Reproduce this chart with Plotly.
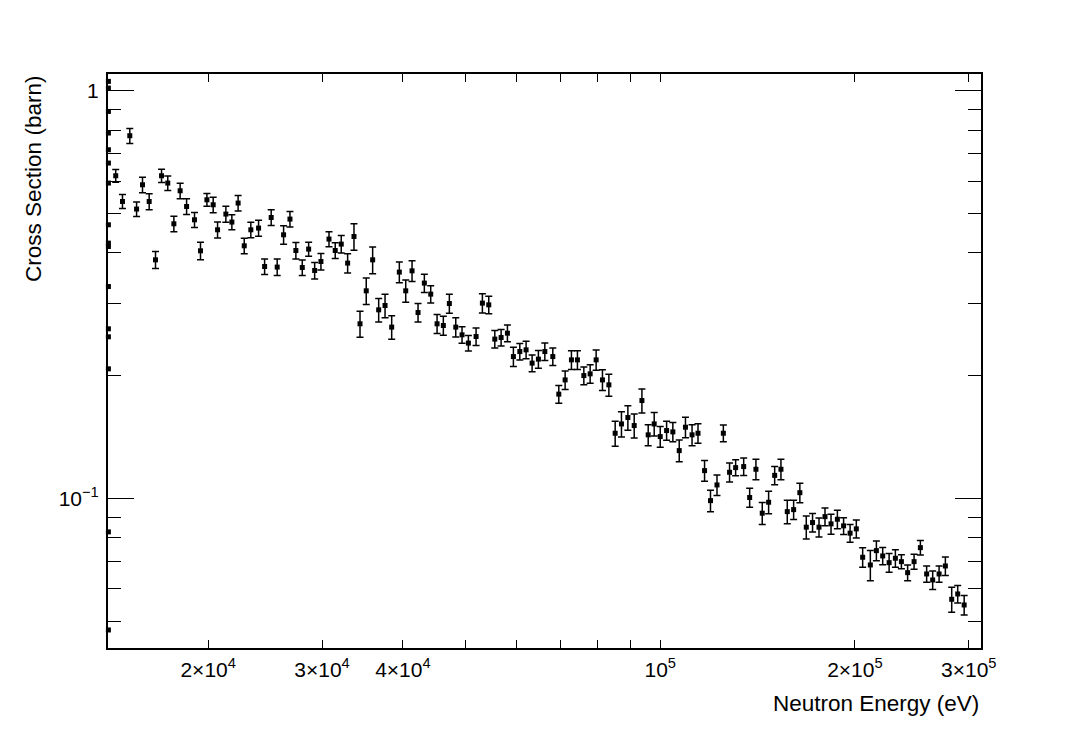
import math
import plotly.graph_objects as go

# Neutron energy (eV), cross section (barn), symmetric error (barn)
energy = [14390, 14740, 15130, 15500, 15830, 16210, 16580, 16940, 17320, 17700,
          18100, 18520, 19050, 19460, 19910, 20360, 20680, 21300, 21760, 22250,
          22740, 23280, 23930, 24450, 25030, 25570, 26160, 26760, 27330, 27960,
          28600, 29220, 29880, 30750, 31440, 32120, 32860, 33610, 34340, 35110,
          35920, 36700, 37540, 38440, 39500, 40410, 41330, 42220, 43180, 44170,
          45180, 46200, 47200, 48290, 49380, 50510, 51910, 53090, 54310, 55490,
          56750, 58040, 59290, 60660, 62030, 63370, 64810, 66310, 68220, 69690,
          71280, 72900, 74470, 76190, 77920, 79600, 81410, 83290, 85180, 87110,
          89120, 91150, 93690, 95810, 97880, 100000, 102300, 104600, 107000, 109400,
          112000, 114400, 117100, 119600, 122400, 125200, 128000, 130800, 134600, 137500,
          140600, 143800, 147100, 150300, 153700, 157200, 160800, 164400, 168200, 172000,
          176000, 179800, 183700, 187900, 192100, 196600, 201000, 205600, 211300, 215900,
          220800, 225900, 231000, 236000, 241300, 246900, 252500, 258200, 263800, 269900,
          276000, 282300, 288400, 295100]

xsec = [0.6186, 0.5350, 0.7755, 0.5125, 0.5879, 0.5350, 0.3848, 0.6186, 0.5936, 0.4716,
        0.5683, 0.5201, 0.4824, 0.4049, 0.5401, 0.5251, 0.4559, 0.4982, 0.4762, 0.5302,
        0.4165, 0.4559, 0.4603, 0.3705, 0.4887, 0.3693, 0.4432, 0.4843, 0.4056, 0.3684,
        0.4088, 0.3623, 0.3811, 0.4326, 0.4056, 0.4205, 0.3777, 0.4390, 0.2681, 0.3230,
        0.3848, 0.2901, 0.2973, 0.2631, 0.3590, 0.3230, 0.3616, 0.2857, 0.3374, 0.3170,
        0.2681, 0.2655, 0.3006, 0.2631, 0.2519, 0.2404, 0.2495, 0.3013, 0.2984, 0.2459,
        0.2481, 0.2543, 0.2228, 0.2292, 0.2314, 0.2147, 0.2196, 0.2292, 0.2228, 0.1802,
        0.1953, 0.2187, 0.2187, 0.2001, 0.2021, 0.2187, 0.1953, 0.1899, 0.1445, 0.1523,
        0.1579, 0.1509, 0.1738, 0.1432, 0.1523, 0.1418, 0.1467, 0.1456, 0.1310, 0.1495,
        0.1432, 0.1445, 0.1170, 0.09876, 0.1079, 0.1445, 0.1159, 0.1190, 0.1197, 0.1005,
        0.1179, 0.09198, 0.09787, 0.1139, 0.1179, 0.09281, 0.09387, 0.1033, 0.08501, 0.08725,
        0.08501, 0.09022, 0.08661, 0.08890, 0.08564, 0.08218, 0.08420, 0.07173, 0.06867, 0.07446,
        0.07226, 0.06957, 0.07132, 0.06997, 0.06575, 0.06997, 0.07573, 0.06527, 0.06309, 0.06527,
        0.06828, 0.05657, 0.05830, 0.05478]

xsec_err = [0.0220, 0.0212, 0.0329, 0.0208, 0.0256, 0.0242, 0.0185, 0.0234, 0.0245, 0.0208,
            0.0250, 0.0229, 0.0204, 0.0199, 0.0192, 0.0231, 0.0206, 0.0225, 0.0202, 0.0234,
            0.0184, 0.0198, 0.0208, 0.0163, 0.0215, 0.0173, 0.0230, 0.0213, 0.0190, 0.0162,
            0.0162, 0.0168, 0.0179, 0.0183, 0.0179, 0.0207, 0.0203, 0.0330, 0.0197, 0.0241,
            0.0289, 0.0192, 0.0197, 0.0175, 0.0209, 0.0204, 0.0210, 0.0149, 0.0175, 0.0156,
            0.0144, 0.0143, 0.0161, 0.0144, 0.0118, 0.0105, 0.0124, 0.0165, 0.0148, 0.0121,
            0.0116, 0.0119, 0.0122, 0.0107, 0.0114, 0.0101, 0.0109, 0.0113, 0.0111, 0.00896,
            0.0102, 0.0115, 0.0115, 0.00995, 0.0105, 0.0124, 0.0114, 0.0118, 0.0102, 0.0108,
            0.0109, 0.0102, 0.0118, 0.0085, 0.0101, 0.00825, 0.00787, 0.00798, 0.00799, 0.00870,
            0.00850, 0.00792, 0.00681, 0.00597, 0.00628, 0.00678, 0.00622, 0.00538, 0.00595, 0.00539,
            0.00686, 0.00572, 0.00619, 0.00592, 0.00686, 0.00619, 0.00514, 0.00566, 0.00552, 0.00454,
            0.00456, 0.00449, 0.00489, 0.00462, 0.00402, 0.00409, 0.00428, 0.00393, 0.00582, 0.00412,
            0.00355, 0.00366, 0.00355, 0.00277, 0.00290, 0.00297, 0.00312, 0.00302, 0.00328, 0.00302,
            0.00355, 0.00400, 0.00287, 0.00300]

# points that sit on the lower energy edge of the frame
edge_xsec = [1.054, 1.015, 0.8896, 0.7874, 0.7165, 0.6646, 0.5936, 0.4690,
             0.4229, 0.4149, 0.3309, 0.2606, 0.2491, 0.2079, 0.08278, 0.04757]
edge_energy = [14020] * len(edge_xsec)

x_labels = [20000, 30000, 40000, 100000, 200000, 300000]
x_label_text = ["2×10<sup>4</sup>", "3×10<sup>4</sup>", "4×10<sup>4</sup>",
                "10<sup>5</sup>", "2×10<sup>5</sup>", "3×10<sup>5</sup>"]
x_minor = [50000, 60000, 70000, 80000, 90000]
y_major = [0.1, 1]
y_major_text = ["10<sup>−1</sup>", "1"]
y_minor = [0.05, 0.06, 0.07, 0.08, 0.09, 0.2, 0.3, 0.4, 0.5, 0.6, 0.7, 0.8, 0.9]

x_range = [math.log10(14000), 5.4960]
y_range = [-1.3669, 0.0410]

FONT = "Liberation Sans, Arial, Helvetica, sans-serif"

fig = go.Figure()
fig.add_trace(go.Scatter(
    x=energy, y=xsec, mode="markers",
    marker=dict(symbol="square", size=5, color="black"),
    error_y=dict(type="data", array=xsec_err, visible=True, color="black",
                 thickness=1.5, width=3.5),
    cliponaxis=False, showlegend=False))
fig.add_trace(go.Scatter(
    x=edge_energy, y=edge_xsec, mode="markers",
    marker=dict(symbol="square", size=5, color="black"),
    cliponaxis=False, showlegend=False))

fig.update_layout(
    width=1091, height=741,
    margin=dict(l=108, r=110, t=74, b=93),
    paper_bgcolor="white", plot_bgcolor="white",
    font=dict(family=FONT, size=21, color="black"),
    xaxis=dict(type="log", range=x_range, showgrid=False, zeroline=False,
               showline=True, linecolor="black", linewidth=2, mirror="ticks",
               layer="below traces",
               ticks="inside", ticklen=8, tickwidth=1, tickcolor="black",
               tickvals=x_labels, ticktext=x_label_text,
               tickfont=dict(size=21, family=FONT), ticklabelstandoff=2,
               minor=dict(tickvals=x_minor, ticks="inside", ticklen=8,
                          tickwidth=1, tickcolor="black", showgrid=False)),
    yaxis=dict(type="log", range=y_range, showgrid=False, zeroline=False,
               showline=True, linecolor="black", linewidth=2, mirror="ticks",
               layer="below traces",
               ticks="inside", ticklen=26, tickwidth=1, tickcolor="black",
               tickvals=y_major, ticktext=y_major_text,
               tickfont=dict(size=21, family=FONT), ticklabelstandoff=3,
               minor=dict(tickvals=y_minor, ticks="inside", ticklen=13,
                          tickwidth=1, tickcolor="black", showgrid=False)),
)

# longer tick at the decade 10^5 (bottom and top)
plot_h = 741 - 74 - 93
for y0, y1 in [(0, 18 / plot_h), (1, 1 - 18 / plot_h)]:
    fig.add_shape(type="line", xref="x", yref="paper",
                  x0=math.log10(1e5), x1=math.log10(1e5), y0=y0, y1=y1,
                  line=dict(color="black", width=1))

fig.add_annotation(text="Neutron Energy (eV)", xref="paper", yref="paper",
                   x=1, y=-0.096, xanchor="right", yanchor="middle",
                   showarrow=False, font=dict(size=22.5, family=FONT))
fig.add_annotation(text="Cross Section (barn)", xref="paper", yref="paper",
                   x=-0.086, y=1, xanchor="center", yanchor="top", textangle=-90,
                   showarrow=False, font=dict(size=22.5, family=FONT))

fig.write_html("out.html")
